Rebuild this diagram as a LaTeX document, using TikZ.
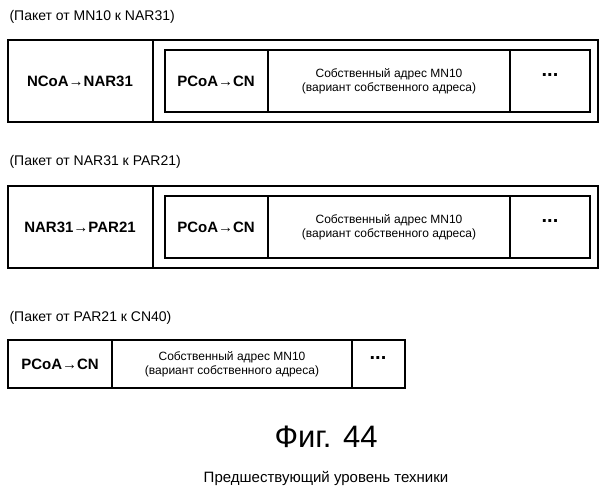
\documentclass[tikz,border=0pt]{standalone}
\usepackage{fontspec}
\setmainfont{Liberation Sans}
\begin{document}
\begin{tikzpicture}[x=1pt,y=-1pt,
  box/.style={draw,line width=1.6pt},
  captxt/.style={anchor=west,font=\fontsize{14}{16}\selectfont},
  bt/.style={font=\bfseries\fontsize{15}{17}\selectfont},
  dt/.style={font=\bfseries\fontsize{20}{22}\selectfont},
  st/.style={font=\fontsize{12}{14}\selectfont,align=center}]
\useasboundingbox (0,0) rectangle (608,500);
% packet 1
\node[captxt] (c1) at (6,17) {(Пакет от MN10 к NAR31)};
\draw[box] (8,40) rectangle (598,122);
\draw[box] (153,40) -- (153,122);
\draw[box] (165,50) rectangle (590,112);
\draw[box] (268,50) -- (268,112);
\draw[box] (510,50) -- (510,112);
\node[bt] (a1) at (80,81) {NCoA→NAR31};
\node[bt] (b1) at (216,81) {PCoA→CN};
\node[st] (d1) at (389,81) {Собственный адрес MN10\\(вариант собственного адреса)};
\node[dt] (e1) at (550,75) {...};
% packet 2
\node[captxt] (c2) at (6,162) {(Пакет от NAR31 к PAR21)};
\draw[box] (8,186) rectangle (598,268);
\draw[box] (153,186) -- (153,268);
\draw[box] (165,196) rectangle (590,258);
\draw[box] (268,196) -- (268,258);
\draw[box] (510,196) -- (510,258);
\node[bt] (a2) at (80,227) {NAR31→PAR21};
\node[bt] (b2) at (216,227) {PCoA→CN};
\node[st] (d2) at (389,227) {Собственный адрес MN10\\(вариант собственного адреса)};
\node[dt] (e2) at (550,221) {...};
% packet 3
\node[captxt] (c3) at (6,318) {(Пакет от PAR21 к CN40)};
\draw[box] (8,340) rectangle (405,388);
\draw[box] (112,340) -- (112,388);
\draw[box] (352,340) -- (352,388);
\node[bt] (b3) at (60,364) {PCoA→CN};
\node[st] (d3) at (232,364) {Собственный адрес MN10\\(вариант собственного адреса)};
\node[dt] (e3) at (378,358) {...};
% caption
\node[font=\fontsize{31}{34}\selectfont] (f) at (326,437) {Фиг. 44};
\node[font=\fontsize{15}{17}\selectfont] (p) at (326,478) {Предшествующий уровень техники};
\end{tikzpicture}
\end{document}
